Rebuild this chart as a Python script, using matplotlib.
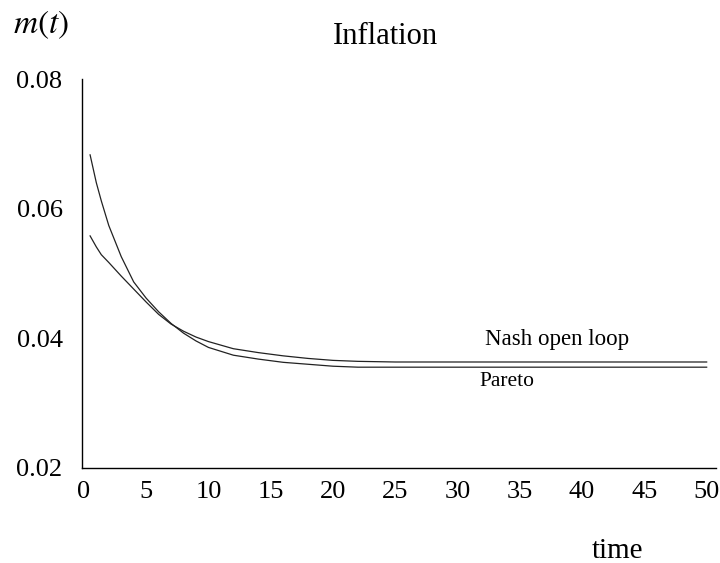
import matplotlib
matplotlib.use('Agg')
import matplotlib.pyplot as plt

# values
time = [0.5, 1, 1.4, 2, 3, 4, 5, 6, 7, 8, 9, 10, 12, 14, 16, 18, 20, 22, 25, 30, 35, 40, 45, 50]
pareto = [0.0683, 0.0640, 0.0612, 0.0574, 0.0526, 0.0487, 0.0462, 0.0441, 0.0423, 0.0408, 0.0396,
          0.0386, 0.0374, 0.0368, 0.0363, 0.0360, 0.0357, 0.03555, 0.03555, 0.03555,
          0.03555, 0.03555, 0.03555, 0.03555]
nash_open_loop = [0.0558, 0.0541, 0.0529, 0.0517, 0.0496, 0.0476, 0.0456, 0.0437, 0.0422, 0.0411,
                  0.0402, 0.0395, 0.0384, 0.0378, 0.0373, 0.0369, 0.0366, 0.03645, 0.03635,
                  0.03635, 0.03635, 0.03635, 0.03635, 0.03635]
xticks = [0, 5, 10, 15, 20, 25, 30, 35, 40, 45, 50]
yticks = [0.02, 0.04, 0.06, 0.08]

plt.rcParams['font.family'] = 'Liberation Serif'
plt.rcParams['mathtext.fontset'] = 'stix'

fig = plt.figure(figsize=(7.2, 5.63), dpi=100)
ax = fig.add_axes([82 / 720, 1 - 468 / 563, 634 / 720, 389 / 563])

ax.plot(time, pareto, color='#222222', linewidth=0.9)
ax.plot(time, nash_open_loop, color='#222222', linewidth=0.9)

ax.set_xlim(-0.15, 50.75)
ax.set_ylim(0.02, 0.08)
ax.set_xticks(xticks)
ax.set_yticks(yticks)
ax.set_yticklabels(['%.2f' % v for v in yticks])
ax.tick_params(length=0, labelsize=19, pad=9)
ax.tick_params(axis='y', pad=14)

for side in ['top', 'right']:
    ax.spines[side].set_visible(False)
for side in ['left', 'bottom']:
    ax.spines[side].set_linewidth(1.0)
    ax.spines[side].set_color('black')

ax.text(38, 0.0398, 'Nash open loop', fontsize=16.5, ha='center', va='center')
ax.text(34, 0.0334, 'Pareto', fontsize=15.5, ha='center', va='center')

fig.text(385 / 720, 1 - 37 / 563, 'Inflation', fontsize=22, ha='center', va='center')
fig.text(41 / 720, 1 - 25 / 563, r'$m(t)$', fontsize=24, ha='center', va='center')
fig.text(617 / 720, 1 - 551 / 563, 'time', fontsize=21, ha='center', va='center')

fig.savefig('out.png', dpi=100)
